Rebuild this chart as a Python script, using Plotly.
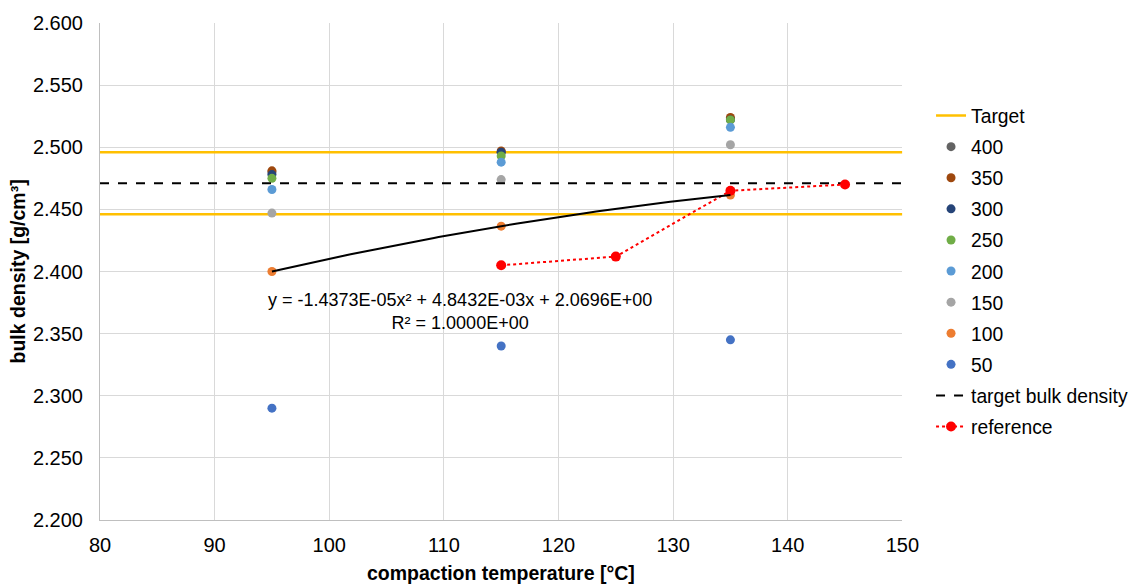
import numpy as np
import plotly.graph_objects as go

# ---- data ----
temps = [95, 115, 135]
series_names = ["400", "350", "300", "250", "200", "150", "100", "50"]
d400 = [2.480, 2.496, 2.523]
d350 = [2.481, 2.497, 2.524]
d300 = [2.478, 2.496, 2.522]
d250 = [2.475, 2.493, 2.522]
d200 = [2.466, 2.488, 2.516]
d150 = [2.447, 2.474, 2.502]
d100 = [2.400, 2.4365, 2.4615]
d50 = [2.290, 2.340, 2.345]
ref_temps = [115, 125, 135, 145]
ref_density = [2.405, 2.412, 2.465, 2.470]
target_density = 2.471
target_tolerance = 0.025
x_range = [80, 150]
y_range = [2.2, 2.6]
x_ticks = [80, 90, 100, 110, 120, 130, 140, 150]
y_ticks = [2.2, 2.25, 2.3, 2.35, 2.4, 2.45, 2.5, 2.55, 2.6]
equation_text = "y = -1.4373E-05x² + 4.8432E-03x + 2.0696E+00<br>R² = 1.0000E+00"

colors = {
    "400": "#636363", "350": "#9E480E", "300": "#264478", "250": "#70AD47",
    "200": "#5B9BD5", "150": "#A5A5A5", "100": "#ED7D31", "50": "#4472C4",
}
values = {"400": d400, "350": d350, "300": d300, "250": d250,
          "200": d200, "150": d150, "100": d100, "50": d50}

FONT = "Arial, Liberation Sans, sans-serif"
fig = go.Figure()

# Target band lines (one legend entry)
hi = target_density + target_tolerance
lo = target_density - target_tolerance
fig.add_trace(go.Scatter(
    x=[x_range[0], x_range[1], None, x_range[0], x_range[1]],
    y=[hi, hi, None, lo, lo],
    mode="lines", name="Target", legendgroup="Target",
    line=dict(color="#FFC000", width=2.5), hoverinfo="skip"))

for n in series_names:
    fig.add_trace(go.Scatter(
        x=temps, y=values[n], mode="markers", name=n, legendgroup=n,
        marker=dict(color=colors[n], size=9)))

fig.add_trace(go.Scatter(
    x=x_range, y=[target_density, target_density], mode="lines",
    name="target bulk density", legendgroup="tbd",
    line=dict(color="black", width=2, dash="dash")))

fig.add_trace(go.Scatter(
    x=ref_temps, y=ref_density, mode="lines+markers", name="reference",
    legendgroup="ref",
    line=dict(color="#FF0000", width=2, dash="dot"),
    marker=dict(color="#FF0000", size=10)))

# polynomial trendline of the 100 series
coef = np.polyfit(temps, d100, 2)
xt = np.linspace(min(temps), max(temps), 100)
fig.add_trace(go.Scatter(
    x=xt, y=np.polyval(coef, xt), mode="lines", showlegend=False,
    line=dict(color="black", width=2), hoverinfo="skip"))

fig.add_annotation(x=111.4, y=2.3676, xref="x", yref="y", text=equation_text,
                   showarrow=False, align="center",
                   font=dict(family=FONT, size=18, color="#000000"))

# axis titles
fig.add_annotation(x=0.5, y=0, xref="paper", yref="paper", yshift=-53,
                   xanchor="center", yanchor="middle",
                   text="<b>compaction temperature [°C]</b>", showarrow=False,
                   font=dict(family=FONT, size=19.5, color="#000000"))
fig.add_annotation(x=0, y=0.5, xref="paper", yref="paper", xshift=-83,
                   xanchor="center", yanchor="middle",
                   text="<b>bulk density [g/cm³]</b>", showarrow=False, textangle=-90,
                   font=dict(family=FONT, size=19.5, color="#000000"))

fig.update_layout(
    width=1135, height=586,
    margin=dict(l=100, r=232, t=20, b=66),
    plot_bgcolor="white", paper_bgcolor="white",
    font=dict(family=FONT, size=20, color="#000000"),
    legend=dict(xref="container", x=0.8203, y=0.852, xanchor="left", yanchor="top",
                traceorder="grouped", tracegroupgap=3,
                font=dict(family=FONT, size=19.3), bgcolor="rgba(0,0,0,0)"),
    showlegend=True,
)
fig.update_xaxes(range=x_range, tickvals=x_ticks, showgrid=True, gridcolor="#D9D9D9",
                 gridwidth=1, showline=True, linecolor="#BFBFBF", linewidth=1,
                 zeroline=False, ticks="", ticklabelstandoff=7)
fig.update_yaxes(range=y_range, tickvals=y_ticks, tickformat=".3f", showgrid=True,
                 gridcolor="#D9D9D9", gridwidth=1, showline=True, linecolor="#BFBFBF",
                 linewidth=1, zeroline=False, ticks="", ticklabelstandoff=12)

fig.write_html("out.html")
